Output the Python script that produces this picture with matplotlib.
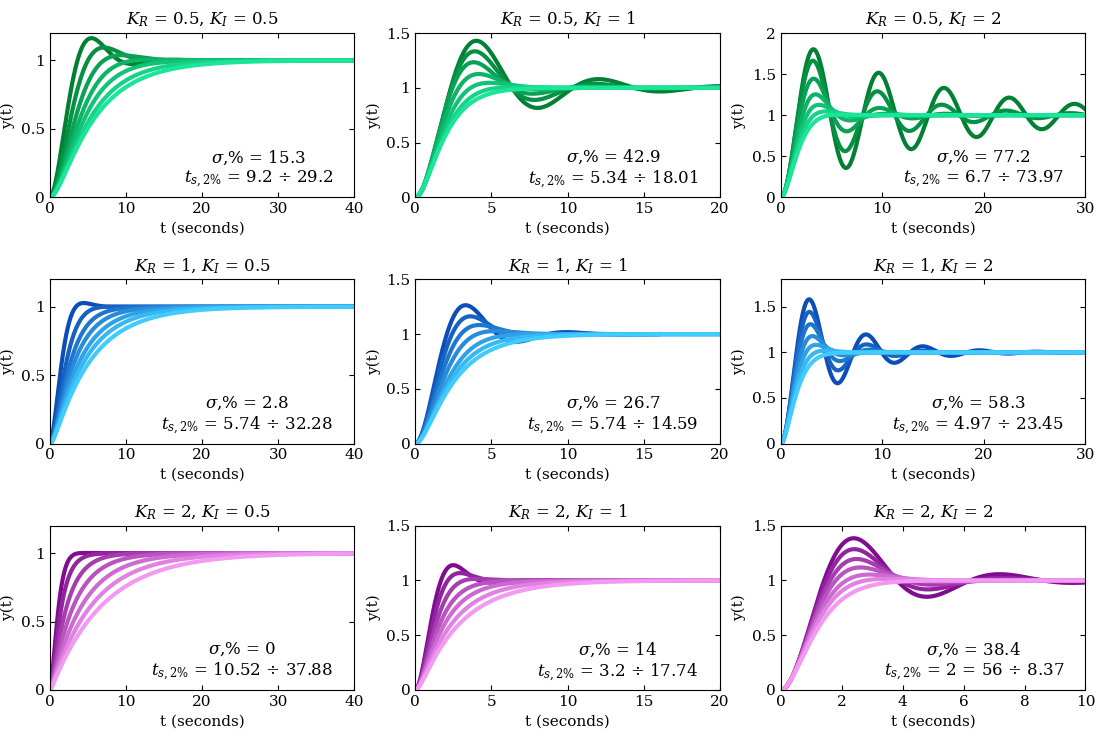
import numpy as np
import matplotlib
matplotlib.use("Agg")
import matplotlib.pyplot as plt

plt.rcParams['font.family'] = ['DejaVu Serif']
plt.rcParams['mathtext.fontset'] = 'dejavuserif'

kr_vals = ["0.5", "1", "2"]
ki_vals = ["0.5", "1", "2"]
sigma = [["15.3", "42.9", "77.2"], ["2.8", "26.7", "58.3"], ["0", "14", "38.4"]]
ts_txt = [["9.2 ÷ 29.2", "5.34 ÷ 18.01", "6.7 ÷ 73.97"],
          ["5.74 ÷ 32.28", "5.74 ÷ 14.59", "4.97 ÷ 23.45"],
          ["10.52 ÷ 37.88", "3.2 ÷ 17.74", "2 = 56 ÷ 8.37"]]
xmax = [[40, 20, 30], [40, 20, 30], [40, 20, 10]]
xstep = [[10, 5, 10], [10, 5, 10], [10, 5, 2]]
ymax = [[1.2, 1.5, 2.0], [1.2, 1.5, 1.8], [1.2, 1.5, 1.5]]
yticks = [[[0, .5, 1], [0, .5, 1, 1.5], [0, .5, 1, 1.5, 2]],
          [[0, .5, 1], [0, .5, 1, 1.5], [0, .5, 1, 1.5]],
          [[0, .5, 1], [0, .5, 1, 1.5], [0, .5, 1, 1.5]]]
# damping ratios / natural frequencies of the curves
zetas = [[[0.5, 0.6, 0.72, 0.85, 1.0, 1.15, 1.3], [0.26, 0.33, 0.42, 0.55, 0.7, 0.85, 1.0], [0.07, 0.13, 0.25, 0.4, 0.55, 0.7, 0.85]],
         [[0.75, 0.9, 1.05, 1.2, 1.35, 1.5, 1.7], [0.39, 0.5, 0.62, 0.75, 0.9, 1.05, 1.2], [0.17, 0.25, 0.35, 0.48, 0.62, 0.78, 0.95]],
         [[0.9, 1.1, 1.4, 1.8, 2.2, 2.7, 3.2], [0.53, 0.65, 0.8, 1.0, 1.2, 1.45, 1.7], [0.29, 0.37, 0.46, 0.56, 0.68, 0.8, 0.95]]]
wns = [[[0.66, 0.55, 0.48, 0.44, 0.42, 0.4, 0.4], [0.81, 0.85, 0.9, 0.9, 0.9, 0.9, 0.95], [0.98, 1.0, 1.0, 1.0, 1.0, 1.0, 1.0]],
       [[1.06, 0.85, 0.75, 0.7, 0.65, 0.62, 0.6], [1.03, 1.0, 0.95, 0.9, 0.85, 0.85, 0.85], [1.14, 1.15, 1.15, 1.15, 1.15, 1.15, 1.15]],
       [[1.6, 1.4, 1.2, 1.1, 1.0, 0.95, 0.9], [1.48, 1.4, 1.3, 1.25, 1.2, 1.15, 1.1], [1.37, 1.4, 1.42, 1.45, 1.47, 1.5, 1.5]]]
ends = [[[27, 27, 27, 40, 40, 40, 40], [20, 20, 20, 20, 20, 20, 20], [30, 30, 30, 30, 30, 30, 30]],
        [[40, 40, 40, 40, 40, 40, 40], [16, 16, 16, 20, 20, 20, 20], [30, 30, 22, 22, 30, 30, 30]],
        [[40, 40, 40, 40, 40, 40, 40], [17, 17, 17, 20, 20, 20, 20], [10, 10, 10, 10, 10, 10, 10]]]
dark = [(0.0, 0.5, 0.2), (0.05, 0.3, 0.72), (0.5, 0.05, 0.56)]
light = [(0.1, 0.9, 0.6), (0.25, 0.8, 1.0), (0.95, 0.6, 0.95)]

def step(z, w, T):
    dt = T / 4000.0
    t = np.arange(0, T + dt, dt)
    y = np.zeros_like(t); v = 0.0; x = 0.0
    for i in range(1, len(t)):
        a = w * w * (1 - x) - 2 * z * w * v
        v += a * dt; x += v * dt; y[i] = x
    return t, y

fig, axes = plt.subplots(3, 3, figsize=(11.02, 7.34), dpi=100)
for r in range(3):
    for c in range(3):
        ax = axes[r][c]
        n = len(zetas[r][c])
        for k in range(n):
            f = k / (n - 1)
            col = tuple(dark[r][j] * (1 - f) + light[r][j] * f for j in range(3))
            t, y = step(zetas[r][c][k], wns[r][c][k], ends[r][c][k])
            ax.plot(t, y, color=col, lw=3)
        ax.set_xlim(0, xmax[r][c]); ax.set_ylim(0, ymax[r][c])
        ax.set_xticks(np.arange(0, xmax[r][c] + 0.1, xstep[r][c]))
        ax.set_yticks(yticks[r][c])
        ax.set_yticklabels([f"{v:g}" for v in yticks[r][c]])
        ax.tick_params(direction='in', top=True, right=True, labelsize=11)
        ax.set_title(f"$K_R$ = {kr_vals[r]}, $K_I$ = {ki_vals[c]}", fontsize=12)
        ax.set_xlabel("t (seconds)", fontsize=11)
        ax.set_ylabel("y(t)", fontsize=11)
        ax.text(0.93, 0.17, f"$\\sigma$,% = {sigma[r][c]}\n$t_{{s,2\\%}}$ = {ts_txt[r][c]}",
                transform=ax.transAxes, ha='right', va='center', fontsize=12, multialignment='center')
fig.subplots_adjust(left=0.045, right=0.985, top=0.955, bottom=0.06, wspace=0.2, hspace=0.5)
fig.savefig("out.png")
